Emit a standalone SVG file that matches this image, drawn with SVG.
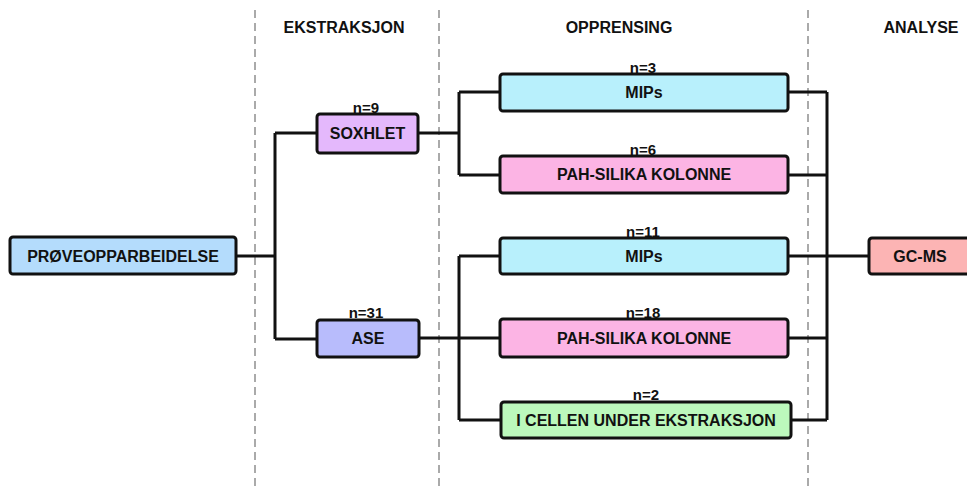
<svg xmlns="http://www.w3.org/2000/svg" width="967" height="488" viewBox="0 0 967 488">
<style>
.bg{fill:#ffffff}
.sep{stroke:#aaaaaa;stroke-width:2;stroke-dasharray:8 5;fill:none}
.hdr{font-family:"Liberation Sans",Arial,sans-serif;font-weight:bold;font-size:16px;fill:#111;text-anchor:middle}
.box{stroke:#111;stroke-width:3}
.lbl{font-family:"Liberation Sans",Arial,sans-serif;font-weight:bold;font-size:16px;fill:#111;text-anchor:middle}
.n{font-family:"Liberation Sans",Arial,sans-serif;font-weight:bold;font-size:15px;fill:#111;text-anchor:middle}
.con{stroke:#111;stroke-width:3;fill:none}
</style>
<rect class="bg" x="0" y="0" width="967" height="488"/>
<g id="separators">
<line class="sep" x1="255" y1="10" x2="255" y2="488"/>
<line class="sep" x1="439" y1="10" x2="439" y2="488"/>
<line class="sep" x1="808" y1="10" x2="808" y2="488"/>
</g>
<g id="headers">
<text class="hdr" x="344" y="33">EKSTRAKSJON</text>
<text class="hdr" x="619" y="33">OPPRENSING</text>
<text class="hdr" x="921" y="33">ANALYSE</text>
</g>
<g id="connectors">
<path class="con" d="M236,256 H275 M275,133 V339 M275,133 H317 M275,339 H317"/>
<path class="con" d="M418,133 H459 M459,92 V175 M459,92 H500 M459,175 H500"/>
<path class="con" d="M419,338 H500 M459,256 V420 M459,256 H500 M459,420 H501"/>
<path class="con" d="M788,92 H827 M788,175 H827 M788,256 H869 M788,338 H827 M791,420 H827 M827,92 V420"/>
</g>
<g id="prove">
<rect class="box" x="10" y="237" width="226" height="37" rx="3" fill="#b4dcfc"/>
<text class="lbl" x="123" y="262">PRØVEOPPARBEIDELSE</text>
</g>
<g id="soxhlet">
<text class="n" x="366" y="113">n=9</text>
<rect class="box" x="317" y="114" width="101" height="39" rx="3" fill="#e4b8fc"/>
<text class="lbl" x="367.5" y="139">SOXHLET</text>
</g>
<g id="ase">
<text class="n" x="366" y="318">n=31</text>
<rect class="box" x="317" y="320" width="102" height="37" rx="3" fill="#b8bcfc"/>
<text class="lbl" x="368" y="344">ASE</text>
</g>
<g id="mips1">
<text class="n" x="643" y="73">n=3</text>
<rect class="box" x="500" y="74" width="288" height="37" rx="3" fill="#b8f0fc"/>
<text class="lbl" x="644" y="98">MIPs</text>
</g>
<g id="pah1">
<text class="n" x="643" y="155">n=6</text>
<rect class="box" x="500" y="156" width="288" height="37" rx="3" fill="#fcb4e4"/>
<text class="lbl" x="644" y="180">PAH-SILIKA KOLONNE</text>
</g>
<g id="mips2">
<text class="n" x="643" y="237">n=11</text>
<rect class="box" x="500" y="238" width="288" height="36" rx="3" fill="#b8f0fc"/>
<text class="lbl" x="644" y="262">MIPs</text>
</g>
<g id="pah2">
<text class="n" x="643" y="318">n=18</text>
<rect class="box" x="500" y="319" width="288" height="38" rx="3" fill="#fcb4e4"/>
<text class="lbl" x="644" y="344">PAH-SILIKA KOLONNE</text>
</g>
<g id="icellen">
<text class="n" x="646" y="400">n=2</text>
<rect class="box" x="501" y="402" width="290" height="36" rx="3" fill="#bcf8bc"/>
<text class="lbl" x="646" y="426">I CELLEN UNDER EKSTRAKSJON</text>
</g>
<g id="gcms">
<rect class="box" x="869" y="238" width="103" height="36" rx="3" fill="#fcb4b4"/>
<text class="lbl" x="920" y="262">GC-MS</text>
</g>
</svg>
